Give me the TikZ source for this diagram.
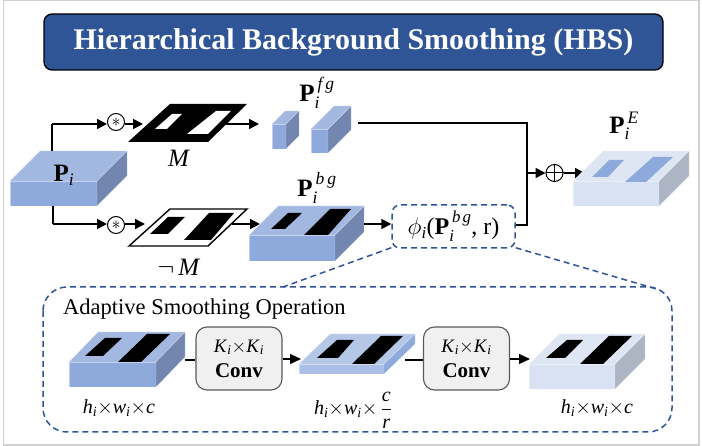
\RequirePackage{fix-cm}
\documentclass[tikz,border=0pt]{standalone}
\usepackage{amsmath}
\usepackage{fontspec}
\setmainfont{Liberation Serif}
\usetikzlibrary{arrows.meta}
\definecolor{hbsblue}{HTML}{2F5597}
\definecolor{topA}{HTML}{A3B8E1}
\definecolor{frontA}{HTML}{8EA9DB}
\definecolor{sideA}{HTML}{7286B0}
\definecolor{topB}{HTML}{B4C7E7}
\definecolor{frontB}{HTML}{A9BFE6}
\definecolor{sideB}{HTML}{8EA9DB}
\definecolor{topC}{HTML}{DEE6F4}
\definecolor{frontC}{HTML}{D9E2F3}
\definecolor{sideC}{HTML}{ADB5C4}
\newcommand{\vi}[1]{\textit{#1}}
\newcommand{\bP}{\textbf{P}}
\newcommand{\dimtxt}{\vi{h}$_{\vi{i}}$$\times$\vi{w}$_{\vi{i}}$$\times$\vi{c}}
\newcommand{\kk}{{\fontsize{19}{22}\selectfont\vi{K}$_{\vi{i}}$$\times$\vi{K}$_{\vi{i}}$}}
\tikzset{
  conn/.style={draw=black,line width=1.6pt},
  arr/.style={conn,-{Triangle[length=10pt,width=10pt]}},
  thinarr/.style={draw=black,line width=1.1pt,-{Triangle[length=11pt,width=10pt]}},
  thinline/.style={draw=black,line width=1.1pt},
  opcirc/.style={circle,draw=black,line width=1pt,fill=white,minimum size=17pt,inner sep=0pt,font=\fontsize{18}{18}\selectfont},
  dashblue/.style={draw=hbsblue,line width=1.5pt,dash pattern=on 6pt off 4pt},
  convbox/.style={draw=black!65,line width=1.1pt,fill=black!6,rounded corners=11pt,minimum width=86pt,minimum height=63pt,inner sep=0pt,align=center,font=\fontsize{21}{25}\selectfont},
  lab/.style={inner sep=0pt,font=\fontsize{25}{28}\selectfont},
  dimlab/.style={inner sep=0pt,font=\fontsize{20}{24}\selectfont},
  cubeedge/.style={draw=white,draw opacity=.45,line width=.4pt}
}
\newcommand{\cuboid}[9]{%
  % x1 x2 yfronttop ybottom dx dy top front side
  \path[cubeedge,fill=#8] (#1,#3) rectangle (#2,#4);
  \path[cubeedge,fill=#7] (#1,#3) -- (#1+#5,#3-#6) -- (#2+#5,#3-#6) -- (#2,#3) -- cycle;
  \path[cubeedge,fill=#9] (#2,#3) -- (#2+#5,#3-#6) -- (#2+#5,#4-#6) -- (#2,#4) -- cycle;
}
\begin{document}
\begin{tikzpicture}[x=1pt,y=-1pt]
\useasboundingbox (0,0) rectangle (702,446);
\fill[white] (0,0) rectangle (702,446);
\draw[black!18,line width=1.5pt] (3.5,0.5) rectangle (699,445);

% title
\node[draw=black,line width=1.3pt,fill=hbsblue,rounded corners=8pt,minimum width=619pt,minimum height=56pt,inner sep=0pt,text=white,font=\fontsize{30}{32}\selectfont\bfseries] (title) at (353.5,42) {Hierarchical Background Smoothing (HBS)};

% P_i
\cuboid{10}{97}{181}{206}{30}{30}{topA}{frontA}{sideA}
\node[lab] (pi) at (64,175) {\bP$_{\vi{i}}$};
\coordinate (piT) at (52,151);
\coordinate (piB) at (53,206);
\coordinate (turnT) at (52,124);
\coordinate (turnB) at (53,224);

% mask M
\fill[black] (128,142) -- (208,142) -- (247,104) -- (170,104) -- cycle;
\fill[white] (155,129) -- (167,129) -- (182,114) -- (172,114) -- cycle;
\fill[white] (187,134) -- (208,134) -- (231,111) -- (216,111) -- cycle;
\node[lab] (mlab) at (179,158) {\vi{M}};
\node[opcirc] (s1) at (116,122) {$*$};
\coordinate (m1in) at (143,124);
\coordinate (m1out) at (225,124);
\coordinate (fgin) at (259,124);

% mask not M
\draw[black,line width=1.4pt,fill=white] (129,246) -- (208,246) -- (247,209) -- (170,209) -- cycle;
\fill[black] (150,234) -- (168,234) -- (185,217) -- (168,217) -- cycle;
\fill[black] (184,240) -- (211,240) -- (234,213) -- (209,213) -- cycle;
\node[lab] (nmlab) at (179,267) {$\neg$\,\vi{M}};
\node[opcirc] (s2) at (116,225) {$*$};
\coordinate (m2in) at (145,224);
\coordinate (m2out) at (232,224);
\coordinate (bgin) at (260,224);

\draw[conn] (piT) -- (turnT);
\draw[arr] (turnT) -- (s1.west |- turnT);
\draw[arr] (s1.east |- m1in) -- (m1in);
\draw[arr] (m1out) -- (fgin);
\draw[conn] (piB) -- (turnB);
\draw[arr] (turnB) -- (s2.west |- turnB);
\draw[arr] (s2.east |- m2in) -- (m2in);
\draw[arr] (m2out) -- (bgin);

% foreground cuboids
\cuboid{272}{286}{124}{149}{13}{13}{topA}{frontA}{sideA}
\cuboid{311}{328}{129}{153}{23}{23}{topA}{frontA}{sideA}
\node[lab] (fglab) at (317,93) {\bP$_{\vi{i}}^{\,\vi{f\kern3pt g}}$};

% background cuboid
\cuboid{249}{335}{235}{261}{29}{29}{topA}{frontA}{sideA}
\fill[black] (271,229) -- (285,229) -- (302,213) -- (288,213) -- cycle;
\fill[black] (304,235) -- (328,235) -- (351,209) -- (330,209) -- cycle;
\node[lab] (bglab) at (317,188) {\bP$_{\vi{i}}^{\,\vi{b\kern3pt g}}$};

% phi
\node[dashblue,rounded corners=8pt,minimum width=123pt,minimum height=43pt,inner sep=0pt,font=\fontsize{24}{26}\selectfont] (phi) at (453.5,226.5) {$\phi_{\vi{i}}$(\bP$_{\vi{i}}^{\,\vi{b\kern2pt g}}$, r)};
\coordinate (bgout) at (364,224);
\draw[arr] (bgout) -- (phi.west |- bgout);

% merge
\coordinate (fgout) at (358,123);
\coordinate (corner) at (527,123);
\coordinate (phiturn) at (527,225);
\coordinate (mergept) at (527,173);
\node[circle,draw=black,line width=1pt,minimum size=17pt,inner sep=0pt] (add) at (554.5,173) {};
\draw[black,line width=1pt] (add.north) -- (add.south) (add.west) -- (add.east);
\draw[conn] (fgout) -- (corner) -- (phiturn) -- (phi.east |- phiturn);
\draw[arr] (mergept) -- (add.west);
\draw[arr] (add.east) -- (585,173);

% P^E
\cuboid{573}{659}{181}{206}{30}{30}{topC}{frontC}{sideC}
\fill[frontA] (592,177) -- (608,177) -- (624,160) -- (609,160) -- cycle;
\fill[frontA] (625,182) -- (646,182) -- (673,157) -- (653,157) -- cycle;
\node[lab] (elab) at (624,126) {\bP$_{\vi{i}}^{\,\vi{E}}$};

% adaptive smoothing frame
\draw[dashblue,rounded corners=24pt] (43,287) rectangle (672,432);
\coordinate (zoomL) at (283,287);
\coordinate (zoomR) at (660,290);
\draw[dashblue] (phi.south west) ++(0,-1) -- (zoomL);
\draw[dashblue] (phi.south east) ++(0,-1) -- (zoomR);
\node[anchor=base west,inner sep=0pt,font=\fontsize{22.5}{24}\selectfont] (aso) at (63,315) {Adaptive Smoothing Operation};

% inner cuboid 1
\cuboid{69}{156}{362}{387}{29}{30}{topA}{frontA}{sideA}
\fill[black] (85,356) -- (103,356) -- (122,338) -- (105,338) -- cycle;
\fill[black] (118,362) -- (141,362) -- (170,334) -- (147,334) -- cycle;
\node[dimlab] (d1) at (119,408) {\dimtxt};

% conv 1
\node[convbox] (c1) at (239,358.5) {\raisebox{-4pt}{\kk}\\\raisebox{-4pt}{\textbf{Conv}}};
\coordinate (o1) at (185,360);
\draw[thinline] (o1) -- (c1.west |- o1);
\coordinate (i2) at (301,359);
\draw[thinarr] (c1.east |- i2) -- (i2);

% inner cuboid 2
\cuboid{299}{384}{364}{374}{31}{30}{topB}{frontB}{sideB}
\fill[black] (317,358) -- (338,358) -- (354,340) -- (337,340) -- cycle;
\fill[black] (352,364) -- (374,364) -- (403,336) -- (381,336) -- cycle;
\node[dimlab] (d2) at (353,410) {\vi{h}$_{\vi{i}}$$\times$\vi{w}$_{\vi{i}}$$\times$\,$\dfrac{\vi{c}}{\vi{r}}$};

% conv 2
\node[convbox] (c2) at (466.5,358.5) {\raisebox{-4pt}{\kk}\\\raisebox{-4pt}{\textbf{Conv}}};
\coordinate (o2) at (405,360);
\draw[thinline] (o2) -- (c2.west |- o2);
\coordinate (i3) at (530,359);
\draw[thinarr] (c2.east |- i3) -- (i3);

% inner cuboid 3
\cuboid{529}{615}{364}{389}{30}{30}{topC}{frontC}{sideC}
\fill[black] (546,358) -- (565,358) -- (583,340) -- (567,340) -- cycle;
\fill[black] (580,364) -- (603,364) -- (632,336) -- (609,336) -- cycle;
\node[dimlab] (d3) at (597,408) {\dimtxt};
\end{tikzpicture}
\end{document}
